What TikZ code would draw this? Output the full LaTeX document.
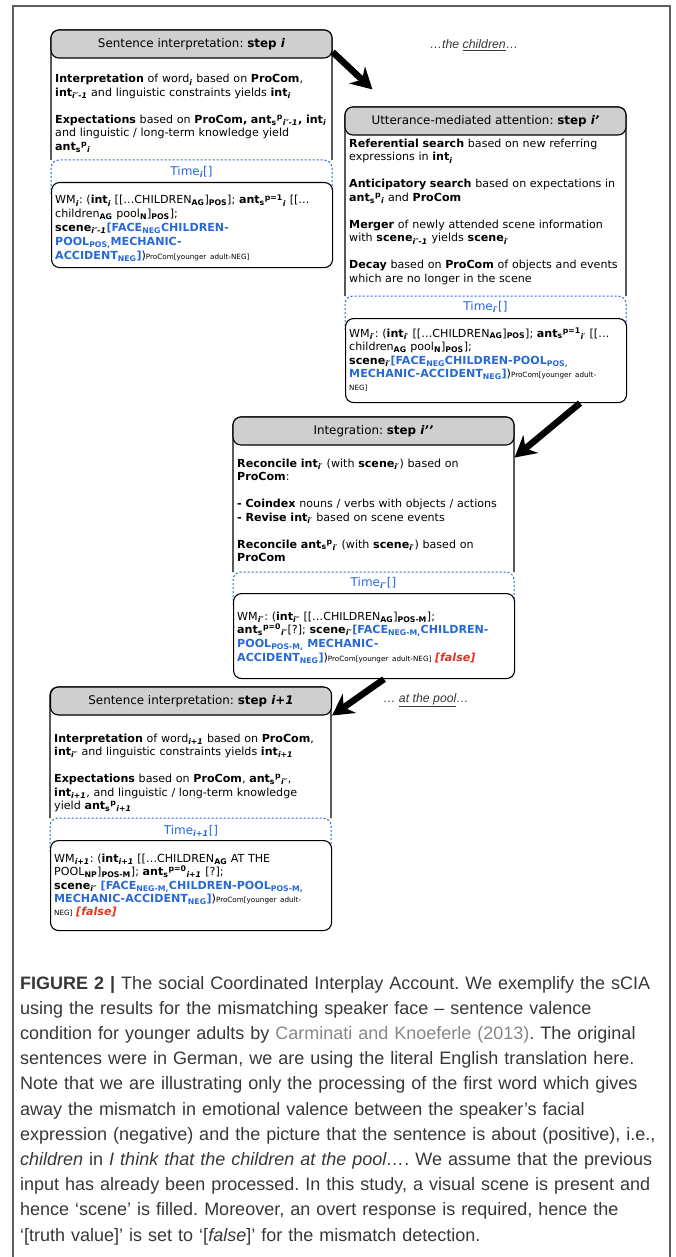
\documentclass[tikz,border=0pt]{standalone}
\usepackage{fontspec}
\setmainfont{DejaVu Sans}
\newfontfamily\capfont{Liberation Sans}
\usetikzlibrary{arrows.meta}
\setlength{\lineskiplimit}{-20pt}
\frenchspacing

\definecolor{headgrey}{RGB}{207,207,207}
\definecolor{timeblue}{RGB}{40,105,215}
\definecolor{falsered}{RGB}{232,50,35}
\definecolor{capgrey}{RGB}{55,55,55}
\definecolor{citegrey}{RGB}{135,135,135}
\definecolor{framegrey}{RGB}{95,95,95}

\newcommand{\ix}[1]{\textsubscript{\textbf{\textit{#1}}}}
\newcommand{\tg}[1]{\textsubscript{\textbf{#1}}}
\newcommand{\antp}[2]{\textbf{ant}\textsubscript{\textbf{s}}\textsuperscript{\textbf{#1}}\ix{#2}}
\newcommand{\blu}[1]{\textcolor{timeblue}{\textbf{#1}}}
\newcommand{\procom}[1]{{\fontsize{7.2}{8}\selectfont ProCom[#1]}}
\newcommand{\fls}{\textcolor{falsered}{\textbf{\textit{[false]}}}}

\begin{document}
\begin{tikzpicture}[x=1pt,y=-1pt,
    stepbody/.style={draw=black,line width=1.1pt,fill=white,rounded corners=8pt},
    stephead/.style={draw=black,line width=1.1pt,fill=headgrey,rounded corners=8pt,
      minimum width=281pt,minimum height=28pt,inner sep=0pt,font=\fontsize{11.9}{14}\selectfont},
    timeline/.style={draw=timeblue,line width=1pt,dash pattern=on 2pt off 2pt,rounded corners=8pt},
    timelabel/.style={text=timeblue,inner sep=0pt,font=\fontsize{12}{14}\selectfont},
    wmbox/.style={draw=black,line width=1.1pt,fill=white,rounded corners=8pt,inner sep=0pt,
      anchor=north west,minimum width=281pt},
    bodytext/.style={anchor=base west,inner sep=0pt,text width=320pt,align=left,
      font=\fontsize{11.1}{13.5}\selectfont},
    wmtext/.style={bodytext,font=\fontsize{11.1}{13.8}\selectfont},
    bigarrow/.style={line width=6.5pt,-{Stealth[length=21pt,width=23pt]}},
    cuetext/.style={text=capgrey,inner sep=0pt,font=\capfont\fontsize{12.3}{14}\selectfont\itshape},
    captext/.style={text=capgrey,anchor=base west,inner sep=0pt,text width=660pt,align=left,
      font=\capfont\fontsize{18}{25.2}\selectfont}]
  \useasboundingbox (0,0) rectangle (675,1257);
  \draw[framegrey,line width=1.4pt] (13,1257) -- (13,6) -- (670,6) -- (670,1257);

  % frames of the four steps
  \foreach \bx/\by/\dt/\wt/\wb/\n in {51/30/130/152/237/1,345/107/189/211/295/2,
      233/417/155/176/261/3,50/687/131/153/243/4}{
    \pgfmathsetmacro{\hh}{\wb-\wt}
    \draw[stepbody] (\bx,\by+\dt) -- (\bx,\by) -- (\bx+281,\by) -- (\bx+281,\by+\dt);
    \draw[timeline] (\bx,\by+\wt+12) -- (\bx,\by+\dt) -- (\bx+281,\by+\dt) -- (\bx+281,\by+\wt+12);
    \node[wmbox,minimum height=\hh pt] (w\n) at (\bx,\by+\wt) {};
  }

  % step i
  \node[stephead] (h1) at (191.5,44) {Sentence interpretation: \textbf{step \textit{i}}};
  \node[bodytext] (b1) at (55,83) {\textbf{Interpretation} of word\ix{i} based on \textbf{ProCom},\\
    \textbf{int}\ix{i″-1} and linguistic constraints yields \textbf{int}\ix{i}\\[13.5pt]
    \textbf{Expectations} based on \textbf{ProCom, }\antp{p}{i″-1}\textbf{, int}\ix{i}\\
    and linguistic / long-term knowledge yield\\
    \antp{p}{i}};
  \node[timelabel] (t1) at (191.5,172) {Time\ix{i}[]};
  \node[wmtext] (m1) at (55,204) {WM\ix{i}: (\textbf{int}\ix{i} [[…CHILDREN\tg{AG}]\tg{POS}]; \antp{p=1}{i} [[…\\
    children\tg{AG} pool\tg{N}]\tg{POS}];\\
    \textbf{scene}\ix{i″-1}\blu{[FACE\tg{NEG}CHILDREN-}\\
    \blu{POOL\tg{POS,}MECHANIC-}\\
    \blu{ACCIDENT\tg{NEG}]})\procom{younger adult-NEG}};

  % step i'
  \node[stephead] (h2) at (485.5,121) {Utterance-mediated attention: \textbf{step \textit{i’}}};
  \node[bodytext] (b2) at (349,147.5) {\textbf{Referential search} based on new referring\\
    expressions in \textbf{int}\ix{i}\\[13.5pt]
    \textbf{Anticipatory search} based on expectations in\\
    \antp{p}{i} and \textbf{ProCom}\\[13.5pt]
    \textbf{Merger} of newly attended scene information\\
    with \textbf{scene}\ix{i″-1} yields \textbf{scene}\ix{i′}\\[13.5pt]
    \textbf{Decay} based on \textbf{ProCom} of objects and events\\
    which are no longer in the scene};
  \node[timelabel] (t2) at (485.5,307) {Time\ix{i′}[]};
  \node[wmtext] (m2) at (349,337) {WM\ix{i′}: (\textbf{int}\ix{i′} [[…CHILDREN\tg{AG}]\tg{POS}]; \antp{p=1}{i′} [[…\\
    children\tg{AG} pool\tg{N}]\tg{POS}];\\
    \textbf{scene}\ix{i′}\blu{[FACE\tg{NEG}CHILDREN-POOL\tg{POS,}}\\
    \blu{MECHANIC-ACCIDENT\tg{NEG}]})\procom{younger adult-\\NEG}};

  % step i''
  \node[stephead] (h3) at (373.5,431) {Integration: \textbf{step \textit{i’’}}};
  \node[bodytext] (b3) at (237,467) {\textbf{Reconcile int}\ix{i′} (with \textbf{scene}\ix{i′}) based on\\
    \textbf{ProCom}:\\[13.5pt]
    \textbf{- Coindex} nouns / verbs with objects / actions\\
    \textbf{- Revise int}\ix{i′} based on scene events\\[13.5pt]
    \textbf{Reconcile }\antp{p}{i′} (with \textbf{scene}\ix{i′}) based on\\
    \textbf{ProCom}};
  \node[timelabel] (t3) at (373.5,583) {Time\ix{i″}[]};
  \node[wmtext] (m3) at (237,620) {WM\ix{i″}: (\textbf{int}\ix{i″} [[…CHILDREN\tg{AG}]\tg{POS-M}];\\
    \antp{p=0}{i″}[?]; \textbf{scene}\ix{i″}\blu{[FACE\tg{NEG-M,}CHILDREN-}\\
    \blu{POOL\tg{POS-M,} MECHANIC-}\\
    \blu{ACCIDENT\tg{NEG}]})\procom{younger adult-NEG} \fls};

  % step i+1
  \node[stephead] (h4) at (191,701) {Sentence interpretation: \textbf{step \textit{i+1}}};
  \node[bodytext] (b4) at (54,742) {\textbf{Interpretation} of word\ix{i+1} based on \textbf{ProCom},\\
    \textbf{int}\ix{i″} and linguistic constraints yields \textbf{int}\ix{i+1}\\[13.5pt]
    \textbf{Expectations} based on \textbf{ProCom}, \antp{p}{i″},\\
    \textbf{int}\ix{i+1}, and linguistic / long-term knowledge\\
    yield \antp{p}{i+1}};
  \node[timelabel] (t4) at (191,831) {Time\ix{i+1}[]};
  \node[wmtext] (m4) at (54,862) {WM\ix{i+1}: (\textbf{int}\ix{i+1} [[…CHILDREN\tg{AG} AT THE\\
    POOL\tg{NP}]\tg{POS-M}]; \antp{p=0}{i+1} [?];\\
    \textbf{scene}\ix{i″} \blu{[FACE\tg{NEG-M,}CHILDREN-POOL\tg{POS-M,}}\\
    \blu{MECHANIC-ACCIDENT\tg{NEG}]})\procom{younger adult-\\NEG} \fls};

  % arrows between steps
  \draw[bigarrow] ([yshift=-8pt]h1.east) -- ([shift={(28pt,17pt)}]h2.north west);
  \draw[bigarrow] ([xshift=94pt]w2.south) -- ([yshift=-12pt]h3.south east);
  \draw[bigarrow] ([xshift=10pt]w3.south) -- (h4.south east);
  \node[cuetext] (cue1) at (474,45) {…the \underline{children}…};
  \node[cuetext] (cue2) at (426,700) {… \underline{at the pool}…};

  % caption
  \node[captext] (cap) at (20,989) {\textbf{FIGURE 2 |} The social Coordinated Interplay Account. We exemplify the sCIA\\
    using the results for the mismatching speaker face – sentence valence\\
    condition for younger adults by \textcolor{citegrey}{Carminati and Knoeferle (2013)}. The original\\
    sentences were in German, we are using the literal English translation here.\\
    Note that we are illustrating only the processing of the first word which gives\\
    away the mismatch in emotional valence between the speaker’s facial\\
    expression (negative) and the picture that the sentence is about (positive), i.e.,\\
    \textit{children} in \textit{I think that the children at the pool…}. We assume that the previous\\
    input has already been processed. In this study, a visual scene is present and\\
    hence ‘scene’ is filled. Moreover, an overt response is required, hence the\\
    ‘[truth value]’ is set to ‘[\textit{false}]’ for the mismatch detection.};
\end{tikzpicture}
\end{document}
